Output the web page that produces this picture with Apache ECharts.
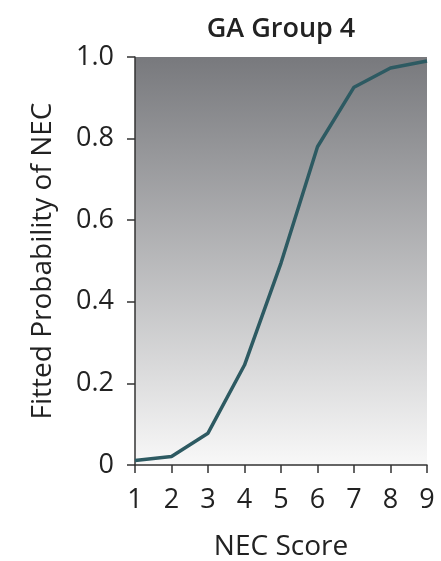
<!DOCTYPE html>
<html>
<head>
<meta charset="utf-8">
<script src="https://cdn.jsdelivr.net/npm/echarts@6/dist/echarts.min.js"></script>
<style>
  html, body { margin: 0; padding: 0; background: #fff; }
  #main { width: 441px; height: 561px; }
</style>
</head>
<body>
<div id="main"></div>
<script>
// NEC score vs fitted probability, GA group 4
var necScores = [1, 2, 3, 4, 5, 6, 7, 8, 9];
var fittedProb = [0.011, 0.021, 0.078, 0.245, 0.495, 0.78, 0.926, 0.973, 0.99];

var chart = echarts.init(document.getElementById('main'));
var font = 'Open Sans';

var option = {
    title: {
        text: 'GA Group 4',
        left: 276,
        textAlign: 'center',
        top: 11,
        textStyle: { fontFamily: font, fontSize: 27, fontWeight: 600, color: '#222' }
    },
    grid: {
        left: 135, right: 14, top: 57, bottom: 96,
        outerBoundsMode: 'none',
        containLabel: false,
        show: true,
        borderWidth: 0,
        backgroundColor: {
            type: 'linear', x: 0, y: 0, x2: 0, y2: 1,
            colorStops: [
                { offset: 0, color: '#78797d' },
                { offset: 1, color: '#f8f8f8' }
            ]
        }
    },
    xAxis: {
        type: 'value',
        min: 1, max: 9, interval: 1,
        name: 'NEC Score',
        nameLocation: 'middle',
        nameGap: 68,
        nameTextStyle: { fontFamily: font, fontSize: 28, color: '#222' },
        axisLine: { lineStyle: { color: '#333', width: 1.5 } },
        axisTick: { show: true, length: 8, lineStyle: { color: '#333', width: 1.5 } },
        axisLabel: { fontFamily: font, fontSize: 27, color: '#222', margin: 22 },
        splitLine: { show: false }
    },
    yAxis: {
        type: 'value',
        min: 0, max: 1, interval: 0.2,
        name: 'Fitted Probability of NEC',
        nameLocation: 'middle',
        nameGap: 78,
        nameTextStyle: { fontFamily: font, fontSize: 28, color: '#222' },
        axisLine: { show: true, lineStyle: { color: '#333', width: 1.5 } },
        axisTick: { show: true, length: 8, lineStyle: { color: '#333', width: 1.5 } },
        axisLabel: {
            fontFamily: font, fontSize: 27, color: '#222', margin: 21,
            formatter: function (v) { return v === 0 ? '0' : v.toFixed(1); }
        },
        splitLine: { show: false }
    },
    series: [{
        type: 'line',
        data: necScores.map(function (s, i) { return [s, fittedProb[i]]; }),
        showSymbol: false,
        lineStyle: { color: '#2d5a62', width: 3.5 }
    }]
};

chart.setOption(option);
</script>
</body>
</html>
